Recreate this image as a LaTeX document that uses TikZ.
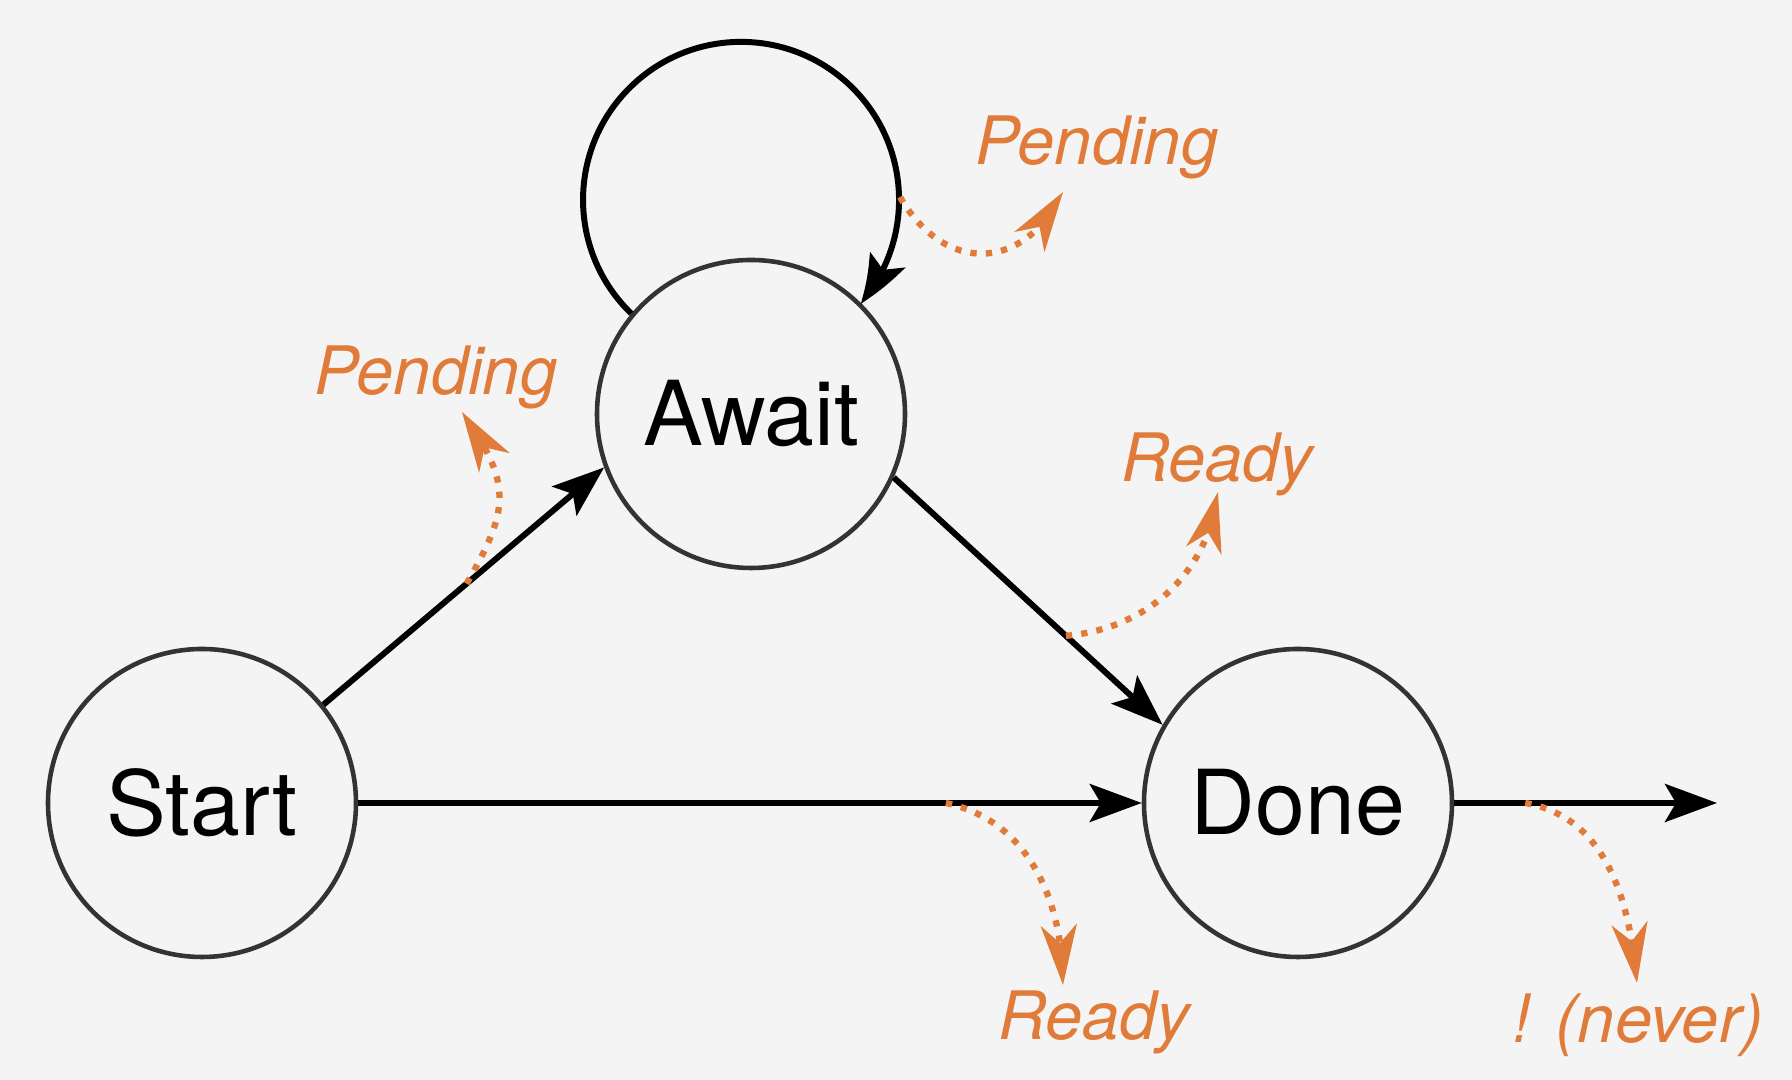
\documentclass[tikz,border=0pt]{standalone}
\usepackage{fontspec}
\setmainfont{TeX Gyre Heros}
\usetikzlibrary{arrows.meta,bending}
\definecolor{bgcol}{RGB}{244,244,244}
\definecolor{hintcol}{RGB}{224,123,57}
\definecolor{ringcol}{RGB}{51,51,51}
\tikzset{
    %Define standard arrow tip
    >={Stealth[length=5.2mm,width=3.8mm,inset=1.1mm]},
    stnode/.style={circle,draw=ringcol,line width=1.3pt,minimum size=3.08cm,inner sep=0pt,font=\fontsize{25.5}{30}\selectfont},
    flow/.style={->,line width=1.7pt},
    hint/.style={-{Stealth[length=6mm,width=3.6mm,inset=1.8mm]},hintcol,line width=1.8pt,dash pattern=on 1.8pt off 2.6pt},
    hinttxt/.style={text=hintcol,anchor=base,inner sep=0pt,font=\fontsize{19}{23}\selectfont\itshape}
}

\begin{document}
\begin{tikzpicture}
    \fill[bgcol] (0,0) rectangle (17.92,10.80);
    \useasboundingbox (0,0) rectangle (17.92,10.80);
    % states
    \node[stnode] (start) at (2.02,2.77) {Start};
    \node[stnode] (await) at (7.51,6.66) {Await};
    \node[stnode] (done) at (12.98,2.77) {Done};
    \coordinate (exit) at (17.17,2.77);
    % transitions
    \draw[flow] (start.39) -- coordinate[pos=0.51] (pa) (await.200);
    \draw[flow] (await.-24) -- coordinate[pos=0.64] (ra) (done.150);
    \draw[flow] (start) -- coordinate[pos=0.75] (rb) (done);
    \draw[flow] (done) -- coordinate[pos=0.27] (nv) (exit);
    \draw[flow,-{Stealth[length=5.2mm,width=3.8mm,inset=1.1mm,bend]}] (await.140) arc[start angle=226,end angle=-41,radius=1.58];
    \coordinate (pl) at (9.00,8.83);
    % poll results
    \node[hinttxt] (lpend) at (10.97,9.15) {Pending};
    \node[hinttxt] (spend) at (4.36,6.85) {Pending};
    \node[hinttxt] (aready) at (12.17,5.98) {Ready};
    \node[hinttxt] (sready) at (10.94,0.40) {Ready};
    \node[hinttxt] (never) at (16.38,0.37) {! (never)};
    \coordinate (tl) at (10.63,8.88);
    \coordinate (tp) at (4.62,6.68);
    \coordinate (ta) at (12.18,5.88);
    \coordinate (ts) at (10.63,0.95);
    \coordinate (tn) at (16.37,0.97);
    \draw[hint] (pl) to[out=-60,in=244,looseness=1.4] (tl);
    \draw[hint] (pa) to[out=60,in=-55,looseness=1.3] (tp);
    \draw[hint] (ra) to[out=5,in=-97] (ta);
    \draw[hint] (rb) to[out=-12,in=90] (ts);
    \draw[hint] (nv) to[out=-10,in=95] (tn);
\end{tikzpicture}
\end{document}
